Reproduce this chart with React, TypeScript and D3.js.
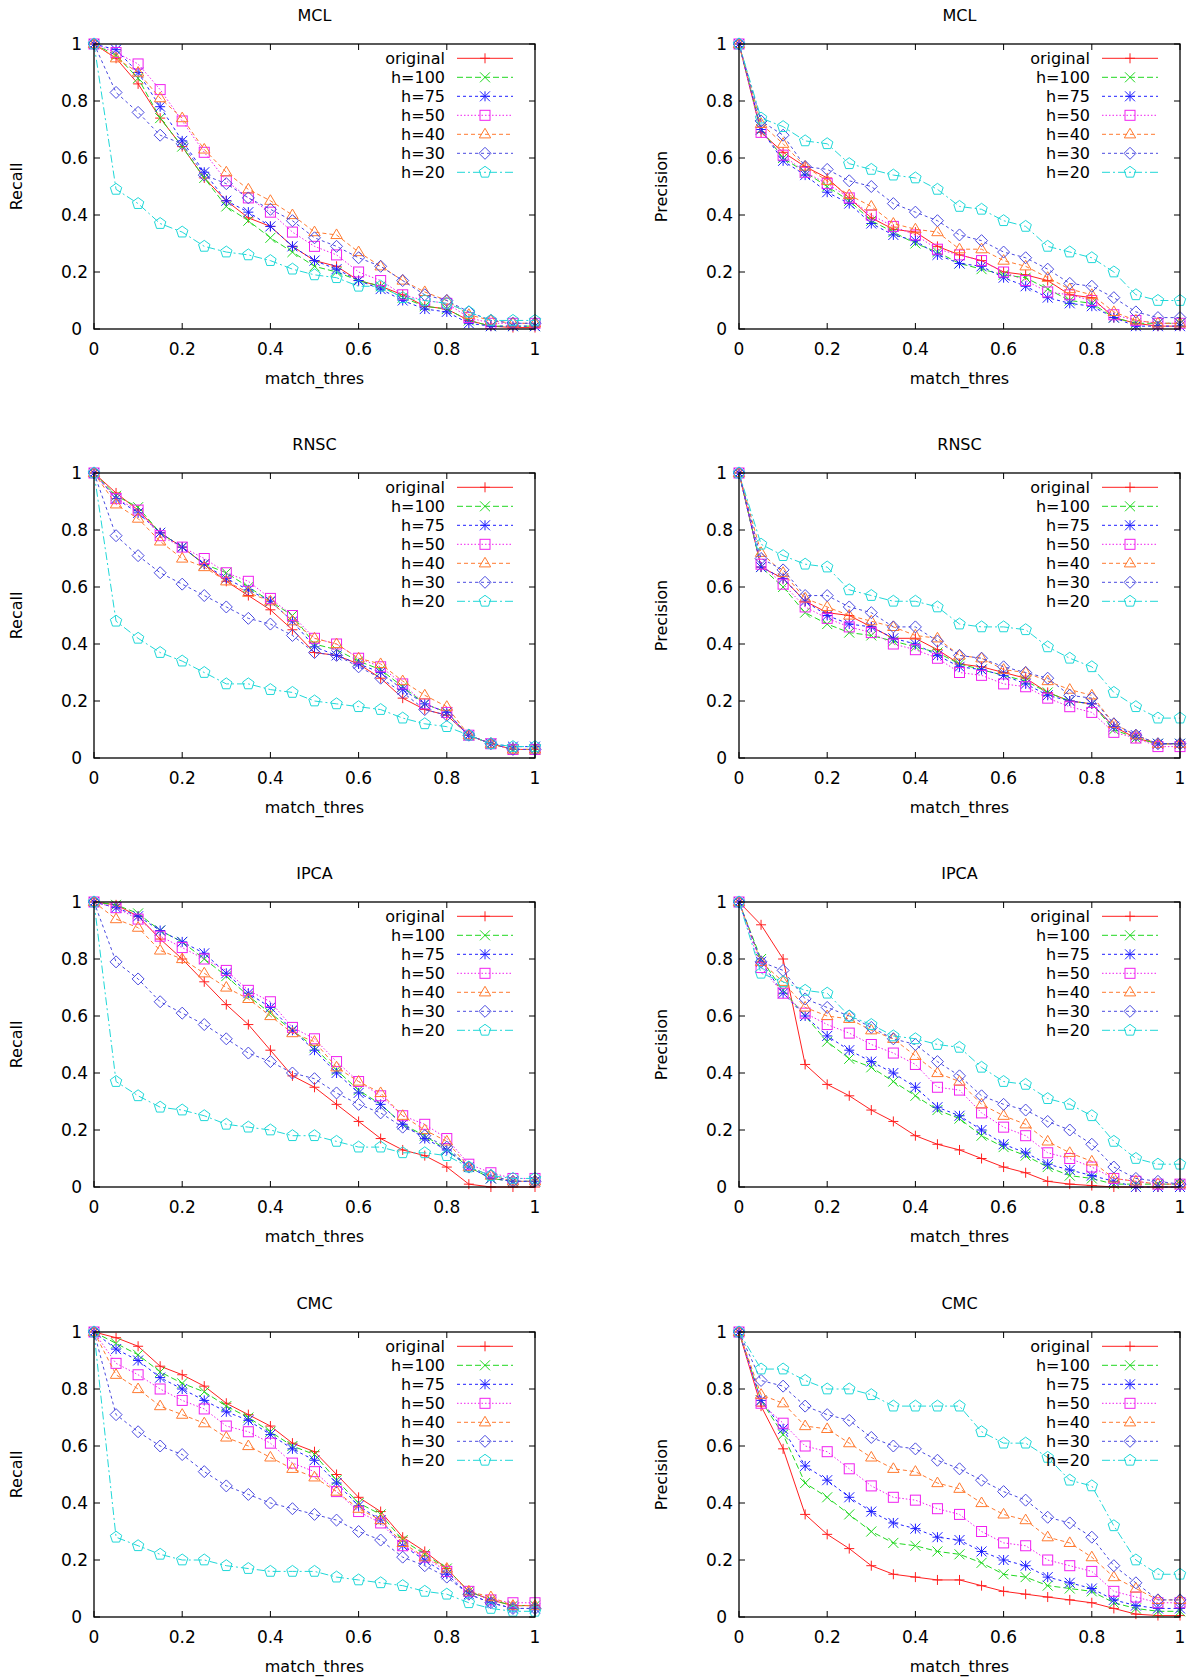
import React from 'react';
import * as d3 from 'd3';

// ---------- data ----------
const THRESHOLDS = [0, 0.05, 0.1, 0.15, 0.2, 0.25, 0.3, 0.35, 0.4, 0.45, 0.5, 0.55, 0.6, 0.65, 0.7, 0.75, 0.8, 0.85, 0.9, 0.95, 1];
const SERIES_LABELS = ['original', 'h=100', 'h=75', 'h=50', 'h=40', 'h=30', 'h=20'];
const X_TICKS = [0, 0.2, 0.4, 0.6, 0.8, 1];
const Y_TICKS = [0, 0.2, 0.4, 0.6, 0.8, 1];
const ROW_TITLES = ['MCL', 'RNSC', 'IPCA', 'CMC'];
const COLUMN_Y_LABELS = ['Recall', 'Precision'];
const X_LABEL = 'match_thres';

// each array: [original, h=100, h=75, h=50, h=40, h=30, h=20]
const MCL_RECALL = [
  [1, 0.95, 0.86, 0.74, 0.64, 0.53, 0.45, 0.39, 0.36, 0.29, 0.24, 0.22, 0.17, 0.15, 0.12, 0.08, 0.07, 0.03, 0.01, 0.005, 0.005],
  [1, 0.96, 0.88, 0.74, 0.64, 0.53, 0.43, 0.38, 0.32, 0.27, 0.22, 0.2, 0.17, 0.15, 0.11, 0.08, 0.07, 0.03, 0.01, 0.01, 0.01],
  [1, 0.98, 0.9, 0.78, 0.66, 0.55, 0.45, 0.41, 0.36, 0.29, 0.24, 0.21, 0.17, 0.14, 0.1, 0.07, 0.06, 0.02, 0.01, 0.01, 0.01],
  [1, 0.97, 0.93, 0.84, 0.73, 0.62, 0.52, 0.46, 0.41, 0.34, 0.29, 0.26, 0.2, 0.17, 0.12, 0.1, 0.09, 0.04, 0.02, 0.02, 0.02],
  [1, 0.95, 0.9, 0.81, 0.74, 0.63, 0.55, 0.49, 0.45, 0.4, 0.34, 0.33, 0.27, 0.22, 0.17, 0.13, 0.1, 0.05, 0.03, 0.02, 0.02],
  [1, 0.83, 0.76, 0.68, 0.65, 0.54, 0.51, 0.46, 0.42, 0.38, 0.32, 0.29, 0.25, 0.22, 0.17, 0.12, 0.1, 0.06, 0.03, 0.02, 0.02],
  [1, 0.49, 0.44, 0.37, 0.34, 0.29, 0.27, 0.26, 0.24, 0.21, 0.19, 0.18, 0.15, 0.15, 0.11, 0.1, 0.09, 0.06, 0.03, 0.03, 0.03],
];
const MCL_PRECISION = [
  [1, 0.69, 0.62, 0.57, 0.53, 0.46, 0.39, 0.35, 0.34, 0.29, 0.26, 0.24, 0.2, 0.19, 0.17, 0.12, 0.11, 0.04, 0.02, 0.01, 0.01],
  [1, 0.7, 0.6, 0.55, 0.5, 0.45, 0.38, 0.34, 0.3, 0.27, 0.23, 0.21, 0.19, 0.18, 0.14, 0.1, 0.09, 0.04, 0.02, 0.02, 0.02],
  [1, 0.7, 0.59, 0.54, 0.48, 0.44, 0.37, 0.33, 0.31, 0.26, 0.23, 0.22, 0.18, 0.15, 0.11, 0.09, 0.08, 0.04, 0.01, 0.01, 0.01],
  [1, 0.69, 0.61, 0.55, 0.51, 0.46, 0.4, 0.36, 0.33, 0.28, 0.26, 0.24, 0.2, 0.17, 0.13, 0.12, 0.1, 0.05, 0.03, 0.02, 0.02],
  [1, 0.72, 0.65, 0.57, 0.52, 0.47, 0.43, 0.37, 0.35, 0.34, 0.28, 0.28, 0.24, 0.22, 0.18, 0.14, 0.12, 0.06, 0.03, 0.02, 0.02],
  [1, 0.73, 0.68, 0.57, 0.56, 0.52, 0.5, 0.44, 0.41, 0.38, 0.33, 0.31, 0.27, 0.25, 0.21, 0.16, 0.15, 0.11, 0.06, 0.04, 0.04],
  [1, 0.74, 0.71, 0.66, 0.65, 0.58, 0.56, 0.54, 0.53, 0.49, 0.43, 0.42, 0.38, 0.36, 0.29, 0.27, 0.25, 0.2, 0.12, 0.1, 0.1],
];
const RNSC_RECALL = [
  [1, 0.93, 0.87, 0.79, 0.74, 0.68, 0.62, 0.57, 0.52, 0.45, 0.37, 0.36, 0.33, 0.28, 0.21, 0.17, 0.15, 0.08, 0.05, 0.03, 0.03],
  [1, 0.92, 0.88, 0.79, 0.74, 0.68, 0.65, 0.6, 0.55, 0.5, 0.4, 0.38, 0.34, 0.31, 0.25, 0.19, 0.16, 0.08, 0.05, 0.03, 0.03],
  [1, 0.91, 0.86, 0.79, 0.74, 0.68, 0.63, 0.59, 0.55, 0.48, 0.39, 0.36, 0.33, 0.3, 0.24, 0.19, 0.16, 0.08, 0.05, 0.04, 0.04],
  [1, 0.91, 0.87, 0.78, 0.74, 0.7, 0.65, 0.62, 0.56, 0.5, 0.42, 0.4, 0.35, 0.32, 0.26, 0.19, 0.16, 0.08, 0.05, 0.03, 0.03],
  [1, 0.89, 0.84, 0.76, 0.7, 0.67, 0.62, 0.58, 0.55, 0.48, 0.42, 0.4, 0.35, 0.33, 0.27, 0.22, 0.18, 0.08, 0.05, 0.03, 0.03],
  [1, 0.78, 0.71, 0.65, 0.61, 0.57, 0.53, 0.49, 0.47, 0.43, 0.37, 0.36, 0.32, 0.28, 0.23, 0.17, 0.15, 0.08, 0.05, 0.03, 0.03],
  [1, 0.48, 0.42, 0.37, 0.34, 0.3, 0.26, 0.26, 0.24, 0.23, 0.2, 0.19, 0.18, 0.17, 0.14, 0.12, 0.11, 0.08, 0.05, 0.04, 0.04],
];
const RNSC_PRECISION = [
  [1, 0.67, 0.63, 0.55, 0.51, 0.5, 0.46, 0.42, 0.42, 0.38, 0.33, 0.32, 0.3, 0.28, 0.23, 0.2, 0.19, 0.11, 0.07, 0.05, 0.05],
  [1, 0.67, 0.6, 0.51, 0.47, 0.44, 0.43, 0.41, 0.39, 0.37, 0.33, 0.31, 0.29, 0.27, 0.23, 0.2, 0.19, 0.1, 0.07, 0.05, 0.05],
  [1, 0.67, 0.63, 0.55, 0.5, 0.47, 0.46, 0.42, 0.4, 0.36, 0.32, 0.31, 0.29, 0.26, 0.22, 0.2, 0.19, 0.11, 0.08, 0.05, 0.05],
  [1, 0.68, 0.61, 0.53, 0.49, 0.46, 0.44, 0.4, 0.38, 0.35, 0.3, 0.29, 0.26, 0.25, 0.21, 0.18, 0.16, 0.09, 0.07, 0.04, 0.04],
  [1, 0.72, 0.65, 0.56, 0.53, 0.5, 0.48, 0.46, 0.43, 0.42, 0.36, 0.35, 0.31, 0.3, 0.27, 0.24, 0.22, 0.12, 0.08, 0.05, 0.05],
  [1, 0.7, 0.66, 0.57, 0.57, 0.53, 0.51, 0.46, 0.46, 0.41, 0.36, 0.35, 0.32, 0.3, 0.28, 0.22, 0.21, 0.12, 0.08, 0.05, 0.05],
  [1, 0.75, 0.71, 0.68, 0.67, 0.59, 0.57, 0.55, 0.55, 0.53, 0.47, 0.46, 0.46, 0.45, 0.39, 0.35, 0.32, 0.23, 0.18, 0.14, 0.14],
];
const IPCA_RECALL = [
  [1, 0.99, 0.95, 0.87, 0.8, 0.72, 0.64, 0.57, 0.48, 0.39, 0.35, 0.29, 0.23, 0.17, 0.13, 0.11, 0.07, 0.01, 0, 0, 0],
  [1, 0.99, 0.96, 0.9, 0.86, 0.8, 0.74, 0.67, 0.61, 0.55, 0.49, 0.41, 0.34, 0.29, 0.22, 0.18, 0.13, 0.07, 0.03, 0.02, 0.02],
  [1, 0.98, 0.95, 0.9, 0.86, 0.82, 0.75, 0.68, 0.63, 0.55, 0.48, 0.4, 0.33, 0.29, 0.22, 0.17, 0.13, 0.07, 0.03, 0.02, 0.02],
  [1, 0.98, 0.94, 0.88, 0.84, 0.8, 0.76, 0.69, 0.65, 0.56, 0.52, 0.44, 0.37, 0.32, 0.25, 0.22, 0.17, 0.08, 0.05, 0.03, 0.03],
  [1, 0.94, 0.91, 0.83, 0.8, 0.75, 0.7, 0.66, 0.6, 0.54, 0.51, 0.42, 0.37, 0.33, 0.25, 0.2, 0.16, 0.07, 0.04, 0.02, 0.02],
  [1, 0.79, 0.73, 0.65, 0.61, 0.57, 0.52, 0.47, 0.44, 0.4, 0.38, 0.33, 0.29, 0.26, 0.21, 0.18, 0.14, 0.07, 0.04, 0.02, 0.02],
  [1, 0.37, 0.32, 0.28, 0.27, 0.25, 0.22, 0.21, 0.2, 0.18, 0.18, 0.16, 0.14, 0.14, 0.12, 0.12, 0.11, 0.07, 0.04, 0.03, 0.03],
];
const IPCA_PRECISION = [
  [1, 0.92, 0.8, 0.43, 0.36, 0.32, 0.27, 0.23, 0.18, 0.15, 0.13, 0.1, 0.07, 0.05, 0.02, 0.01, 0.005, 0, 0, 0, 0],
  [1, 0.8, 0.69, 0.6, 0.51, 0.45, 0.42, 0.37, 0.32, 0.27, 0.24, 0.18, 0.14, 0.11, 0.07, 0.04, 0.03, 0.01, 0.01, 0.01, 0.01],
  [1, 0.79, 0.68, 0.6, 0.53, 0.48, 0.44, 0.4, 0.35, 0.28, 0.25, 0.2, 0.15, 0.12, 0.08, 0.06, 0.04, 0.02, 0, 0, 0],
  [1, 0.77, 0.68, 0.61, 0.57, 0.54, 0.5, 0.47, 0.43, 0.35, 0.34, 0.26, 0.21, 0.18, 0.12, 0.1, 0.07, 0.03, 0.02, 0.01, 0.01],
  [1, 0.79, 0.72, 0.63, 0.6, 0.59, 0.55, 0.52, 0.46, 0.4, 0.37, 0.29, 0.25, 0.22, 0.16, 0.12, 0.09, 0.03, 0.02, 0.01, 0.01],
  [1, 0.79, 0.76, 0.66, 0.63, 0.6, 0.56, 0.52, 0.5, 0.44, 0.39, 0.32, 0.29, 0.27, 0.23, 0.2, 0.15, 0.07, 0.03, 0.02, 0.01],
  [1, 0.75, 0.72, 0.69, 0.68, 0.6, 0.57, 0.53, 0.52, 0.5, 0.49, 0.42, 0.37, 0.36, 0.31, 0.29, 0.25, 0.16, 0.1, 0.08, 0.08],
];
const CMC_RECALL = [
  [1, 0.98, 0.95, 0.88, 0.85, 0.81, 0.75, 0.71, 0.67, 0.61, 0.58, 0.5, 0.42, 0.37, 0.28, 0.23, 0.17, 0.09, 0.06, 0.04, 0.04],
  [1, 0.96, 0.92, 0.86, 0.82, 0.79, 0.74, 0.7, 0.65, 0.6, 0.57, 0.48, 0.4, 0.36, 0.27, 0.22, 0.17, 0.09, 0.06, 0.04, 0.04],
  [1, 0.94, 0.9, 0.84, 0.8, 0.76, 0.72, 0.69, 0.64, 0.59, 0.55, 0.47, 0.39, 0.34, 0.25, 0.2, 0.15, 0.08, 0.05, 0.03, 0.03],
  [1, 0.89, 0.85, 0.8, 0.76, 0.73, 0.67, 0.65, 0.61, 0.54, 0.51, 0.44, 0.37, 0.33, 0.25, 0.21, 0.16, 0.09, 0.06, 0.05, 0.05],
  [1, 0.85, 0.8, 0.74, 0.71, 0.68, 0.63, 0.6, 0.56, 0.52, 0.49, 0.44, 0.38, 0.34, 0.26, 0.21, 0.17, 0.09, 0.07, 0.04, 0.04],
  [1, 0.71, 0.65, 0.6, 0.57, 0.51, 0.46, 0.43, 0.4, 0.38, 0.36, 0.34, 0.3, 0.27, 0.21, 0.18, 0.14, 0.08, 0.05, 0.03, 0.03],
  [1, 0.28, 0.25, 0.22, 0.2, 0.2, 0.18, 0.17, 0.16, 0.16, 0.16, 0.14, 0.13, 0.12, 0.11, 0.09, 0.08, 0.05, 0.03, 0.02, 0.02],
];
const CMC_PRECISION = [
  [1, 0.74, 0.59, 0.36, 0.29, 0.24, 0.18, 0.15, 0.14, 0.13, 0.13, 0.11, 0.09, 0.08, 0.07, 0.06, 0.05, 0.03, 0.01, 0.005, 0.005],
  [1, 0.76, 0.64, 0.47, 0.42, 0.36, 0.3, 0.26, 0.25, 0.23, 0.22, 0.19, 0.15, 0.14, 0.11, 0.1, 0.09, 0.05, 0.03, 0.02, 0.02],
  [1, 0.76, 0.66, 0.53, 0.48, 0.42, 0.37, 0.33, 0.31, 0.28, 0.27, 0.23, 0.2, 0.18, 0.14, 0.12, 0.1, 0.06, 0.04, 0.03, 0.03],
  [1, 0.75, 0.68, 0.6, 0.58, 0.52, 0.46, 0.42, 0.41, 0.38, 0.36, 0.3, 0.26, 0.25, 0.2, 0.18, 0.16, 0.09, 0.07, 0.05, 0.05],
  [1, 0.78, 0.75, 0.67, 0.66, 0.61, 0.56, 0.52, 0.51, 0.47, 0.45, 0.4, 0.36, 0.34, 0.28, 0.26, 0.21, 0.14, 0.1, 0.06, 0.06],
  [1, 0.83, 0.81, 0.74, 0.71, 0.69, 0.63, 0.6, 0.59, 0.55, 0.52, 0.48, 0.44, 0.41, 0.35, 0.33, 0.28, 0.18, 0.12, 0.06, 0.06],
  [1, 0.87, 0.87, 0.83, 0.8, 0.8, 0.78, 0.74, 0.74, 0.74, 0.74, 0.65, 0.61, 0.61, 0.56, 0.48, 0.46, 0.32, 0.2, 0.15, 0.15],
];

const PANELS = [
  [MCL_RECALL, MCL_PRECISION],
  [RNSC_RECALL, RNSC_PRECISION],
  [IPCA_RECALL, IPCA_PRECISION],
  [CMC_RECALL, CMC_PRECISION],
];

// ---------- styles ----------
const COLORS = ['#ff2020', '#20d820', '#2020ff', '#f020f0', '#ff7a30', '#4a4ae0', '#20d8d8'];
const DASHES = ['', '6,3', '3,3', '1.5,2', '4,3', '3,3', '8,3,2,3'];
const MARKERS = ['plus', 'cross', 'star', 'square', 'triangle', 'diamond', 'pentagon'];

const FONT = "'DejaVu Sans', 'Liberation Sans', sans-serif";
const COL_LEFT = [94, 739];
const ROW_TOP = [44, 473, 902, 1332];
const PW = 441;
const PH = 285;

function Marker({ kind, x, y, color }: { kind: string; x: number; y: number; color: string }) {
  const s = 5;
  const common = { fill: 'none', stroke: color, strokeWidth: 1 };
  switch (kind) {
    case 'plus':
      return <path d={`M${x - s},${y}H${x + s}M${x},${y - s}V${y + s}`} {...common} />;
    case 'cross':
      return <path d={`M${x - s},${y - s}L${x + s},${y + s}M${x - s},${y + s}L${x + s},${y - s}`} {...common} />;
    case 'star':
      return (
        <path
          d={`M${x - s},${y}H${x + s}M${x},${y - s}V${y + s}M${x - s},${y - s}L${x + s},${y + s}M${x - s},${y + s}L${x + s},${y - s}`}
          {...common}
        />
      );
    case 'square':
      return <rect x={x - s} y={y - s} width={2 * s} height={2 * s} {...common} />;
    case 'triangle': {
      const r = 6;
      return <path d={`M${x},${y - r}L${x + r * 0.95},${y + r * 0.6}L${x - r * 0.95},${y + r * 0.6}Z`} {...common} />;
    }
    case 'diamond': {
      const r = 6;
      return <path d={`M${x},${y - r}L${x + r},${y}L${x},${y + r}L${x - r},${y}Z`} {...common} />;
    }
    case 'pentagon': {
      const r = 6;
      const pts = d3.range(5).map((k) => {
        const a = (-90 + 72 * k) * (Math.PI / 180);
        return `${x + r * Math.cos(a)},${y + r * Math.sin(a)}`;
      });
      return <polygon points={pts.join(' ')} {...common} />;
    }
    default:
      return null;
  }
}

function Panel({ data, title, yLabel, x0, y0 }: { data: number[][]; title: string; yLabel: string; x0: number; y0: number }) {
  const xs = d3.scaleLinear().domain([0, 1]).range([x0, x0 + PW]);
  const ys = d3.scaleLinear().domain([0, 1]).range([y0 + PH, y0]);
  const line = d3
    .line<number>()
    .x((_, i) => xs(THRESHOLDS[i]))
    .y((d) => ys(d));
  const tick = 6;
  const right = x0 + PW;
  const bottom = y0 + PH;
  return (
    <g>
      <text x={x0 + PW / 2} y={y0 - 29} dy="0.35em" textAnchor="middle" fontSize={16} fontFamily={FONT}>
        {title}
      </text>
      {/* ticks */}
      {X_TICKS.map((t) => (
        <g key={'xt' + t}>
          <line x1={xs(t)} x2={xs(t)} y1={bottom} y2={bottom - tick} stroke="#000" strokeWidth={1} />
          <line x1={xs(t)} x2={xs(t)} y1={y0} y2={y0 + tick} stroke="#000" strokeWidth={1} />
          <text x={xs(t)} y={bottom + 20} dy="0.35em" textAnchor="middle" fontSize={17} fontFamily={FONT}>
            {String(t)}
          </text>
        </g>
      ))}
      {Y_TICKS.map((t) => {
        const lbl = String(t);
        return (
          <g key={'yt' + t}>
            <line x1={x0} x2={x0 + tick} y1={ys(t)} y2={ys(t)} stroke="#000" strokeWidth={1} />
            <line x1={right} x2={right - tick} y1={ys(t)} y2={ys(t)} stroke="#000" strokeWidth={1} />
            <text
              x={x0 - (lbl.length === 1 ? 12 : 6)}
              y={ys(t)}
              dy="0.35em"
              textAnchor="end"
              fontSize={17}
              fontFamily={FONT}
            >
              {lbl}
            </text>
          </g>
        );
      })}
      <text x={x0 + PW / 2} y={bottom + 49} dy="0.35em" textAnchor="middle" fontSize={16} fontFamily={FONT}>
        {X_LABEL}
      </text>
      <text
        transform={`translate(${x0 - 78},${y0 + PH / 2}) rotate(-90)`}
        dy="0.35em"
        textAnchor="middle"
        fontSize={16}
        fontFamily={FONT}
      >
        {yLabel}
      </text>
      {/* series */}
      {data.map((vals, si) => {
        const ly = y0 + 14.3 + si * 19;
        return (
          <g key={si}>
            <path
              d={line(vals) || ''}
              fill="none"
              stroke={COLORS[si]}
              strokeWidth={1}
              strokeDasharray={DASHES[si] || undefined}
            />
            {vals.map((v, i) => (
              <Marker key={i} kind={MARKERS[si]} x={xs(THRESHOLDS[i])} y={ys(v)} color={COLORS[si]} />
            ))}
            <text x={right - 90} y={ly} dy="0.35em" textAnchor="end" fontSize={16} fontFamily={FONT}>
              {SERIES_LABELS[si]}
            </text>
            <line
              x1={right - 78}
              x2={right - 22}
              y1={ly}
              y2={ly}
              stroke={COLORS[si]}
              strokeWidth={1}
              strokeDasharray={DASHES[si] || undefined}
            />
            <Marker kind={MARKERS[si]} x={right - 50} y={ly} color={COLORS[si]} />
          </g>
        );
      })}
      <rect x={x0} y={y0} width={PW} height={PH} fill="none" stroke="#000" strokeWidth={1.3} />
    </g>
  );
}

export default function App() {
  return (
    <div style={{ position: 'absolute', left: 0, top: 0 }}>
      <svg width={1200} height={1679} style={{ display: 'block', background: '#fff' }}>
        {PANELS.map((row, ri) =>
          row.map((data, ci) => (
            <Panel
              key={`${ri}-${ci}`}
              data={data}
              title={ROW_TITLES[ri]}
              yLabel={COLUMN_Y_LABELS[ci]}
              x0={COL_LEFT[ci]}
              y0={ROW_TOP[ri]}
            />
          ))
        )}
      </svg>
    </div>
  );
}
